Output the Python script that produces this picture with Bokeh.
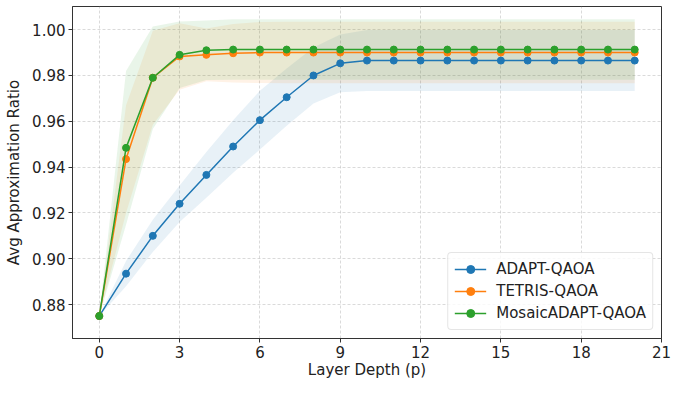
import numpy as np
from bokeh.plotting import figure
from bokeh.models import Range1d, FixedTicker, Legend, LegendItem, CustomJSTickFormatter
from bokeh.embed import file_html
from bokeh.resources import INLINE

layers = list(range(0, 21))

adapt_mean = [0.875, 0.8935, 0.910, 0.924, 0.9366, 0.949, 0.9605, 0.9705, 0.980, 0.9853, 0.9865,
              0.9865, 0.9865, 0.9865, 0.9865, 0.9865, 0.9865, 0.9865, 0.9865, 0.9865, 0.9865]
adapt_std = [0.0, 0.0055, 0.007, 0.008, 0.010, 0.0115, 0.0128, 0.0125, 0.0122, 0.0126, 0.0133,
             0.0133, 0.0133, 0.0133, 0.0133, 0.0133, 0.0133, 0.0133, 0.0133, 0.0133, 0.0133]

tetris_mean = [0.875, 0.9435, 0.979, 0.9883, 0.989, 0.9897, 0.990, 0.990, 0.990, 0.990, 0.990,
               0.990, 0.990, 0.990, 0.990, 0.990, 0.990, 0.990, 0.990, 0.990, 0.990]
tetris_std = [0.0, 0.0235, 0.0205, 0.0145, 0.0115, 0.0128, 0.0133, 0.0134, 0.0134, 0.0134, 0.0134,
              0.0134, 0.0134, 0.0134, 0.0134, 0.0134, 0.0134, 0.0134, 0.0134, 0.0134, 0.0134]

mosaic_mean = [0.875, 0.9484, 0.979, 0.989, 0.991, 0.9913, 0.9913, 0.9913, 0.9913, 0.9913, 0.9913,
               0.9913, 0.9913, 0.9913, 0.9913, 0.9913, 0.9913, 0.9913, 0.9913, 0.9913, 0.9913]
mosaic_std = [0.0, 0.0336, 0.0224, 0.0145, 0.013, 0.0132, 0.0132, 0.0132, 0.0132, 0.0132, 0.0132,
              0.0132, 0.0132, 0.0132, 0.0132, 0.0132, 0.0132, 0.0132, 0.0132, 0.0132, 0.0132]

series_names = ["ADAPT-QAOA", "TETRIS-QAOA", "MosaicADAPT-QAOA"]
colors = ["#1f77b4", "#ff7f0e", "#2ca02c"]

x_ticks = [0, 3, 6, 9, 12, 15, 18, 21]
y_ticks = [0.88, 0.90, 0.92, 0.94, 0.96, 0.98, 1.00]
x_label = "Layer Depth (p)"
y_label = "Avg Approximation Ratio"

FONT = "DejaVu Sans"

p = figure(width=672, height=381, output_backend="svg", toolbar_location=None,
           x_range=Range1d(-1, 21), y_range=Range1d(0.8652, 1.0101),
           min_border_left=72, min_border_right=11, min_border_top=6, min_border_bottom=30)

p.outline_line_color = "#333333"
p.outline_line_width = 1

for ax, ticks in ((p.xaxis, x_ticks), (p.yaxis, y_ticks)):
    ax.ticker = FixedTicker(ticks=ticks)
    ax.minor_tick_line_color = None
    ax.major_tick_out = 4
    ax.major_tick_in = 0
    ax.major_label_standoff = 3
    ax.axis_line_color = "#333333"
    ax.major_tick_line_color = "#333333"
    ax.major_label_text_font = FONT
    ax.major_label_text_font_size = "15px"
    ax.major_label_text_color = "#222222"
    ax.axis_label_text_font = FONT
    ax.axis_label_text_font_size = "15px"
    ax.axis_label_text_font_style = "normal"
    ax.axis_label_text_color = "#222222"

p.yaxis.formatter = CustomJSTickFormatter(code="return tick.toFixed(2);")
p.xaxis.axis_label = x_label
p.yaxis.axis_label = y_label
p.xaxis.axis_label_standoff = 0
p.yaxis.axis_label_standoff = 6

for g in (p.xgrid, p.ygrid):
    g.grid_line_color = "#b0b0b0"
    g.grid_line_dash = "3 2"
    g.grid_line_alpha = 0.6
    g.grid_line_width = 0.8

means = [adapt_mean, tetris_mean, mosaic_mean]
stds = [adapt_std, tetris_std, mosaic_std]

items = []
for name, c, m, s in zip(series_names, colors, means, stds):
    m = np.array(m)
    s = np.array(s)
    p.varea(x=layers, y1=m - s, y2=m + s, fill_color=c, fill_alpha=0.1)
for name, c, m in zip(series_names, colors, means):
    r1 = p.line(layers, m, line_color=c, line_width=1.5)
    r2 = p.scatter(layers, m, size=7, fill_color=c, line_color=c)
    items.append(LegendItem(label=name, renderers=[r1, r2]))

legend = Legend(items=items, location="bottom_right")
legend.label_text_font = FONT
legend.label_text_font_size = "15px"
legend.label_text_color = "#222222"
legend.border_line_color = "#cccccc"
legend.border_line_width = 1
legend.border_radius = 4
legend.background_fill_alpha = 0.8
legend.glyph_width = 32
legend.spacing = 2
legend.padding = 6
legend.margin = 8
legend.label_standoff = 10
p.add_layout(legend)

open("out.html", "w").write(file_html(p, INLINE))
